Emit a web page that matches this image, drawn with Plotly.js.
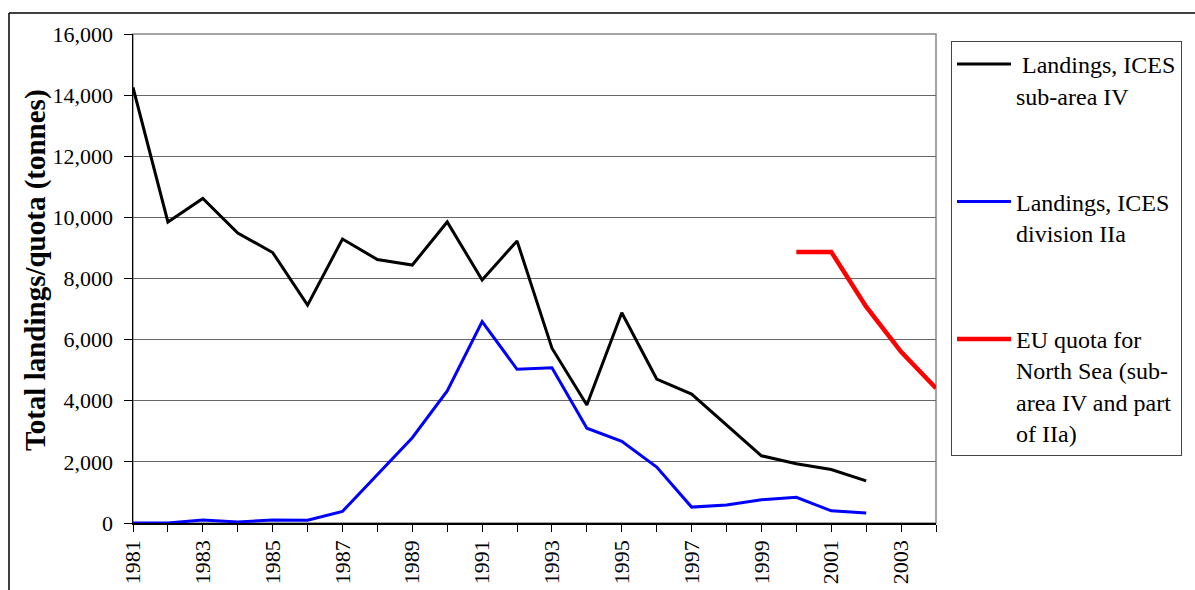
<!DOCTYPE html>
<html>
<head>
<meta charset="utf-8">
<script src="https://cdn.plot.ly/plotly-3.0.1.min.js"></script>
<style>
  html, body { margin: 0; padding: 0; background: #fff; }
  #chart { width: 1195px; height: 590px; }
</style>
</head>
<body>
<div id="chart"></div>
<script>
// landings vs quota, 1981-2004
const years = [1981, 1982, 1983, 1984, 1985, 1986, 1987, 1988, 1989, 1990, 1991,
  1992, 1993, 1994, 1995, 1996, 1997, 1998, 1999, 2000, 2001, 2002];
const landingsIV = [14250, 9850, 10620, 9490, 8850, 7130, 9290, 8620, 8440, 9850, 7950,
  9230, 5720, 3860, 6880, 4710, 4220, 3210, 2200, 1940, 1750, 1380];
const landingsIIa = [0, 0, 100, 35, 95, 90, 380, 1570, 2790, 4320, 6590,
  5030, 5080, 3100, 2670, 1830, 520, 590, 760, 840, 400, 330];
const quotaYears = [2000, 2001, 2002, 2003, 2004];
const euQuota = [8870, 8870, 7080, 5600, 4410];

const NAMES = {
  iv: '\u00a0Landings, ICES<br>sub-area IV',
  iia: 'Landings, ICES<br>division IIa',
  eu: 'EU quota for<br>North Sea (sub-<br>area IV and part<br>of IIa)',
};
const SERIF = 'Liberation Serif, Times New Roman, serif';

const traces = [
  { x: years, y: landingsIV, name: NAMES.iv, legendgroup: 'a', mode: 'lines',
    line: { color: '#000000', width: 3 } },
  { x: years, y: landingsIIa, name: NAMES.iia, legendgroup: 'b', mode: 'lines',
    line: { color: '#0000ff', width: 3 } },
  { x: quotaYears, y: euQuota, name: NAMES.eu, legendgroup: 'c', mode: 'lines',
    line: { color: '#ff0000', width: 4.5 } },
];

// pixel -> paper helpers for the frame lines outside the plot area
const M = { l: 133, r: 259, t: 34, b: 67 };
const PW = 1195 - M.l - M.r, PH = 590 - M.t - M.b;
const px = v => (v - M.l) / PW;
const py = v => (590 - M.b - v) / PH;

const layout = {
  width: 1195, height: 590,
  margin: M,
  paper_bgcolor: '#ffffff', plot_bgcolor: '#ffffff',
  font: { family: SERIF, color: '#000', size: 22 },
  showlegend: true,
  legend: {
    x: px(951), y: py(41), xanchor: 'left', yanchor: 'top',
    bordercolor: '#444', borderwidth: 1, bgcolor: '#fff',
    font: { family: SERIF, size: 24, color: '#000' },
    valign: 'top', tracegroupgap: 72, traceorder: 'grouped',
    itemwidth: 54,
  },
  xaxis: {
    range: [1981, 2004], tick0: 1981, dtick: 2, tickangle: -90,
    ticks: 'outside', ticklen: 7, tickcolor: '#000', tickwidth: 1,
    minor: { tick0: 1981, dtick: 1, ticks: 'outside', ticklen: 7, tickcolor: '#000', showgrid: false },
    showline: true, linecolor: '#000', linewidth: 1.5,
    showgrid: false, zeroline: false,
    tickfont: { family: SERIF, size: 22, color: '#000' },
  },
  yaxis: {
    range: [0, 16000], dtick: 2000, tickformat: ',d',
    ticks: 'outside', ticklen: 8, tickcolor: '#000',
    showline: true, linecolor: '#000', linewidth: 1.5,
    gridcolor: '#666', gridwidth: 1, zeroline: false,
    tickfont: { family: SERIF, size: 22, color: '#000' },
    ticklabelstandoff: 6,
  },
  shapes: [
    // plot-area border (grey, top and right)
    { type: 'rect', xref: 'paper', yref: 'paper', x0: 0, x1: 1, y0: 0, y1: 1,
      line: { color: '#888', width: 1.5 }, layer: 'below' },
    // outer frame of the figure
    { type: 'line', xref: 'paper', yref: 'paper', x0: px(9), x1: px(1200), y0: py(13), y1: py(13),
      line: { color: '#000', width: 1.5 } },
    { type: 'line', xref: 'paper', yref: 'paper', x0: px(9), x1: px(9), y0: py(13), y1: py(600),
      line: { color: '#000', width: 1.5 } },
  ],
  annotations: [
    { text: '<b>Total landings/quota (tonnes)</b>', textangle: -90,
      xref: 'paper', yref: 'paper', x: px(35), y: py(270), xanchor: 'center', yanchor: 'middle',
      showarrow: false, font: { family: SERIF, size: 29, color: '#000' } },
  ],
};

Plotly.newPlot('chart', traces, layout, { displayModeBar: false, staticPlot: true });
</script>
</body>
</html>
